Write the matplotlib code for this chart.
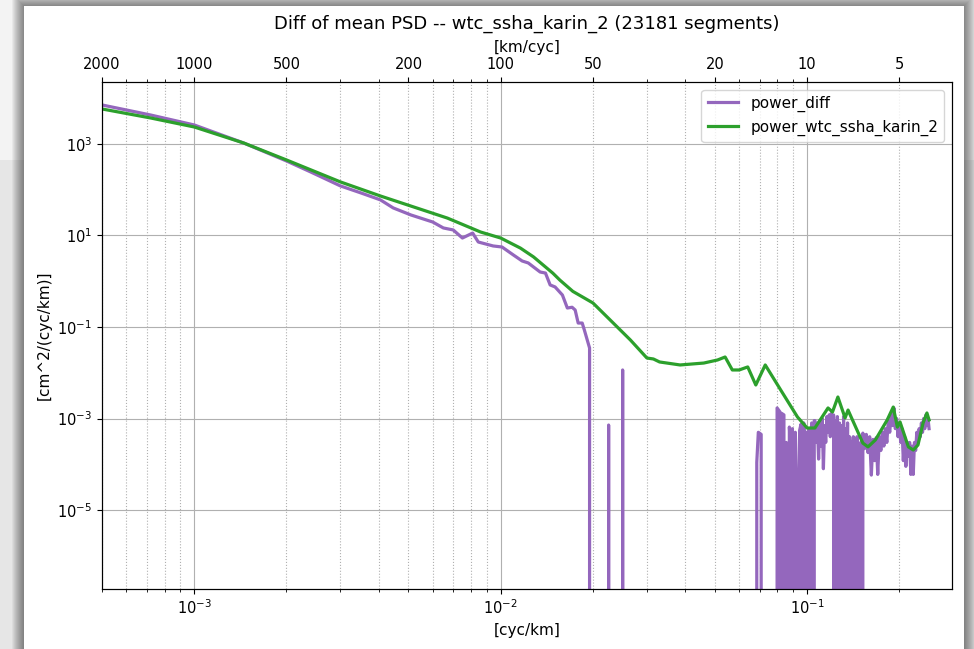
import numpy as np
import matplotlib
matplotlib.use("Agg")
import matplotlib.pyplot as plt
from matplotlib.patches import Rectangle
from matplotlib.ticker import NullLocator, NullFormatter

# power_wtc_ssha_karin_2 (mean PSD)
f_green = [5.0e-4, 7.2e-4, 1.0e-3, 1.45e-3, 2.0e-3, 3.0e-3, 4.05e-3, 5.2e-3, 6.7e-3,
           8.6e-3, 1.0e-2, 1.16e-2, 1.28e-2, 1.48e-2, 1.56e-2, 1.72e-2, 2.0e-2, 2.33e-2,
           2.65e-2, 3.0e-2, 3.15e-2, 3.3e-2, 3.85e-2, 4.6e-2, 5.1e-2, 5.4e-2, 5.7e-2,
           6.0e-2, 6.4e-2, 6.8e-2, 7.3e-2, 8.2e-2, 9.3e-2, 0.100, 0.106, 0.117, 0.121,
           0.126, 0.133, 0.136, 0.152, 0.158, 0.167, 0.1825, 0.191, 0.197, 0.201, 0.214,
           0.222, 0.230, 0.239, 0.246, 0.250]
p_green = [5820, 3700, 2350, 1050, 447, 148, 73, 42, 24,
           11.9, 8.8, 5.3, 3.4, 1.5, 1.06, 0.6, 0.335, 0.122,
           0.052, 0.021, 0.020, 0.0172, 0.0148, 0.0163, 0.019, 0.0221, 0.0115,
           0.0115, 0.0134, 0.0054, 0.0148, 0.0042, 1.08e-3, 6.2e-4, 6.2e-4, 1.7e-3, 1.39e-3,
           2.95e-3, 1.03e-3, 1.53e-3, 2.9e-4, 2.4e-4, 3.4e-4, 9.3e-4, 1.78e-3, 6.5e-4, 8.4e-4, 2.4e-4,
           2.05e-4, 2.64e-4, 8.0e-4, 1.32e-3, 9.3e-4]

# power_diff, smooth low-frequency part (0 = non-positive difference)
f_diff_lo = [5.0e-4, 7.2e-4, 1.0e-3, 1.45e-3, 2.0e-3, 2.4e-3, 3.0e-3, 3.5e-3, 4.05e-3,
             4.46e-3, 5.1e-3, 6.0e-3, 6.5e-3, 7.0e-3, 7.5e-3, 8.1e-3, 8.45e-3, 9.45e-3,
             1.01e-2, 1.1e-2, 1.175e-2, 1.23e-2, 1.345e-2, 1.4e-2, 1.45e-2, 1.505e-2,
             1.59e-2, 1.65e-2, 1.71e-2, 1.75e-2, 1.79e-2, 1.845e-2, 1.875e-2, 1.93e-2,
             1.95e-2, 1.97e-2, 2.23e-2, 2.25e-2, 2.27e-2, 2.48e-2, 2.50e-2, 2.52e-2]
p_diff_lo = [7120, 4300, 2600, 1050, 425, 244, 121, 85, 60,
             40, 28, 19.7, 14.6, 13.2, 8.8, 11.3, 7.2, 5.9,
             5.6, 3.75, 2.77, 2.51, 1.59, 1.51, 0.83, 0.75,
             0.50, 0.26, 0.27, 0.235, 0.122, 0.122, 0.086, 0.0447,
             0.0348, 0, 0, 7.2e-4, 0, 0, 0.0115, 0]

# power_diff, noisy high-frequency part
f_diff_hi = [0.0682, 0.0685, 0.0693, 0.0708, 0.0712, 0.0795, 0.0798, 0.0815, 0.0820,
             0.0825, 0.0840, 0.0845, 0.0855, 0.0865, 0.0875, 0.0885, 0.0895, 0.0905,
             0.0915, 0.0925, 0.0935, 0.0945, 0.0955, 0.0965, 0.0975, 0.0985, 0.0995,
             0.1005, 0.1015, 0.1025, 0.1035, 0.1045, 0.1055,
             0.106, 0.107, 0.108, 0.109, 0.110, 0.111, 0.112, 0.113, 0.114, 0.115,
             0.116, 0.117, 0.118, 0.119, 0.120, 0.121, 0.122,
             0.1225, 0.1235, 0.1245, 0.1255, 0.1265, 0.1275, 0.1285, 0.1295, 0.1305,
             0.1315, 0.1325, 0.1335, 0.1345, 0.1355, 0.1365, 0.1375, 0.1385, 0.1395,
             0.1400, 0.1415, 0.1425, 0.1435, 0.1445, 0.1455, 0.1465, 0.1475, 0.1485,
             0.1495, 0.1505,
             0.152, 0.154, 0.156, 0.158, 0.160, 0.162, 0.164, 0.166, 0.168, 0.170,
             0.172, 0.174, 0.176, 0.178, 0.180, 0.182, 0.184, 0.186, 0.188, 0.190,
             0.192, 0.194, 0.196, 0.198, 0.200, 0.202, 0.204, 0.206, 0.208, 0.210,
             0.212, 0.214, 0.216, 0.218, 0.220, 0.222, 0.224, 0.226, 0.228, 0.230,
             0.232, 0.234, 0.236, 0.238, 0.240, 0.242, 0.244, 0.246, 0.248, 0.250]
p_diff_hi = [0, 1.1e-4, 5e-4, 4.5e-4, 0, 0, 1.7e-3, 1.4e-3, 0,
             1.3e-3, 1.2e-3, 0, 3e-4, 0, 6.5e-4, 2e-4, 6e-4, 0,
             5e-4, 4.5e-5, 0, 5.5e-4, 7.5e-4, 0, 8e-4, 1e-4, 5e-4,
             0, 6e-4, 1.6e-4, 8e-4, 0, 9e-4,
             9e-4, 3e-4, 8e-4, 1.3e-4, 9e-4, 2.5e-4, 1.0e-3, 8e-5, 7e-4, 3e-4,
             1.1e-3, 5e-4, 1.2e-3, 4e-4, 1.3e-3, 6e-4, 1.2e-3,
             0, 9e-4, 0, 1.1e-3, 0, 8e-4, 0, 7e-4, 0,
             1.1e-3, 0, 6e-4, 2.4e-6, 8e-4, 0, 4e-4, 1.5e-4, 3e-4,
             0, 4e-4, 0, 3.5e-4, 0, 4e-4, 0, 2.5e-4, 0,
             3e-4, 0,
             4.8e-4, 2.2e-4, 4.5e-4, 1.8e-4, 4e-4, 5.8e-5, 3.5e-4, 1.2e-4, 3.8e-4, 6e-5,
             4e-4, 2e-4, 5e-4, 2.5e-4, 6e-4, 3e-4, 9e-4, 5e-4, 1.2e-3, 7e-4,
             1.7e-3, 6e-4, 1.0e-3, 4e-4, 8e-4, 3e-4, 6e-4, 1.2e-4, 4e-4, 9e-5,
             3e-4, 1.5e-4, 3e-4, 6e-5, 2.5e-4, 6e-5, 3e-4, 2e-4, 5e-4, 3e-4,
             6e-4, 4e-4, 8e-4, 5e-4, 1.0e-3, 6e-4, 1.2e-3, 7e-4, 1.0e-3, 6e-4]

km_ticks = [2000, 1000, 500, 200, 100, 50, 20, 10, 5]
y_ticks = [1e-5, 1e-3, 1e-1, 1e1, 1e3]

f_diff = np.array(f_diff_lo + f_diff_hi)
p_diff = np.array(p_diff_lo + p_diff_hi)

W, H = 974, 649
fig = plt.figure(figsize=(W / 100, H / 100), dpi=100)
fig.patch.set_facecolor('#f3f3f3')


def px_rect(x0, y0, x1, y1, **kw):
    return Rectangle((x0 / W, 1 - y1 / H), (x1 - x0) / W, (y1 - y0) / H,
                     transform=fig.transFigure, **kw)


# screenshot-like window frame with a soft shadow
fig.add_artist(px_rect(0, 160, W, H, facecolor='#e6e6e6', lw=0, zorder=-20))
for i in range(12, 0, -1):
    fig.add_artist(px_rect(24 - i, 6 - i, 964 + i, H + 20, facecolor='black',
                           alpha=0.045, lw=0, zorder=-15))
fig.add_artist(px_rect(24, 6, 964, H + 20, facecolor='white', lw=0, zorder=-10))

ax = fig.add_axes([102 / W, 1 - 589 / H, 850 / W, 507 / H])
ax.plot(f_diff, p_diff, color='#9467bd', lw=2.3, label='power_diff')
ax.plot(f_green, p_green, color='#2ca02c', lw=2.3, label='power_wtc_ssha_karin_2')
ax.set_xscale('log')
ax.set_yscale('log')
ax.set_xlim(5e-4, 0.297)
ax.set_ylim(1.88e-7, 2.26e4)
ax.set_yticks(y_ticks)
ax.yaxis.set_minor_locator(NullLocator())
ax.tick_params(labelsize=10.5)
ax.grid(True, which='major', color='#b0b0b0', lw=0.8)
ax.grid(True, which='minor', axis='x', color='#b0b0b0', lw=0.8, ls=':')
ax.set_xlabel('[cyc/km]', fontsize=11)
ax.set_ylabel('[cm^2/(cyc/km)]', fontsize=11)
ax.legend(loc='upper right', fontsize=11)

ax2 = ax.twiny()
ax2.set_xscale('log')
ax2.set_xlim(ax.get_xlim())
ax2.set_xticks([1.0 / k for k in km_ticks])
ax2.set_xticklabels([str(k) for k in km_ticks])
ax2.xaxis.set_minor_formatter(NullFormatter())
ax2.tick_params(labelsize=10.5)
ax2.set_xlabel('[km/cyc]', fontsize=11)
ax2.set_title('Diff of mean PSD -- wtc_ssha_karin_2 (23181 segments)', fontsize=13, pad=8)

fig.savefig('out.png', dpi=100)
